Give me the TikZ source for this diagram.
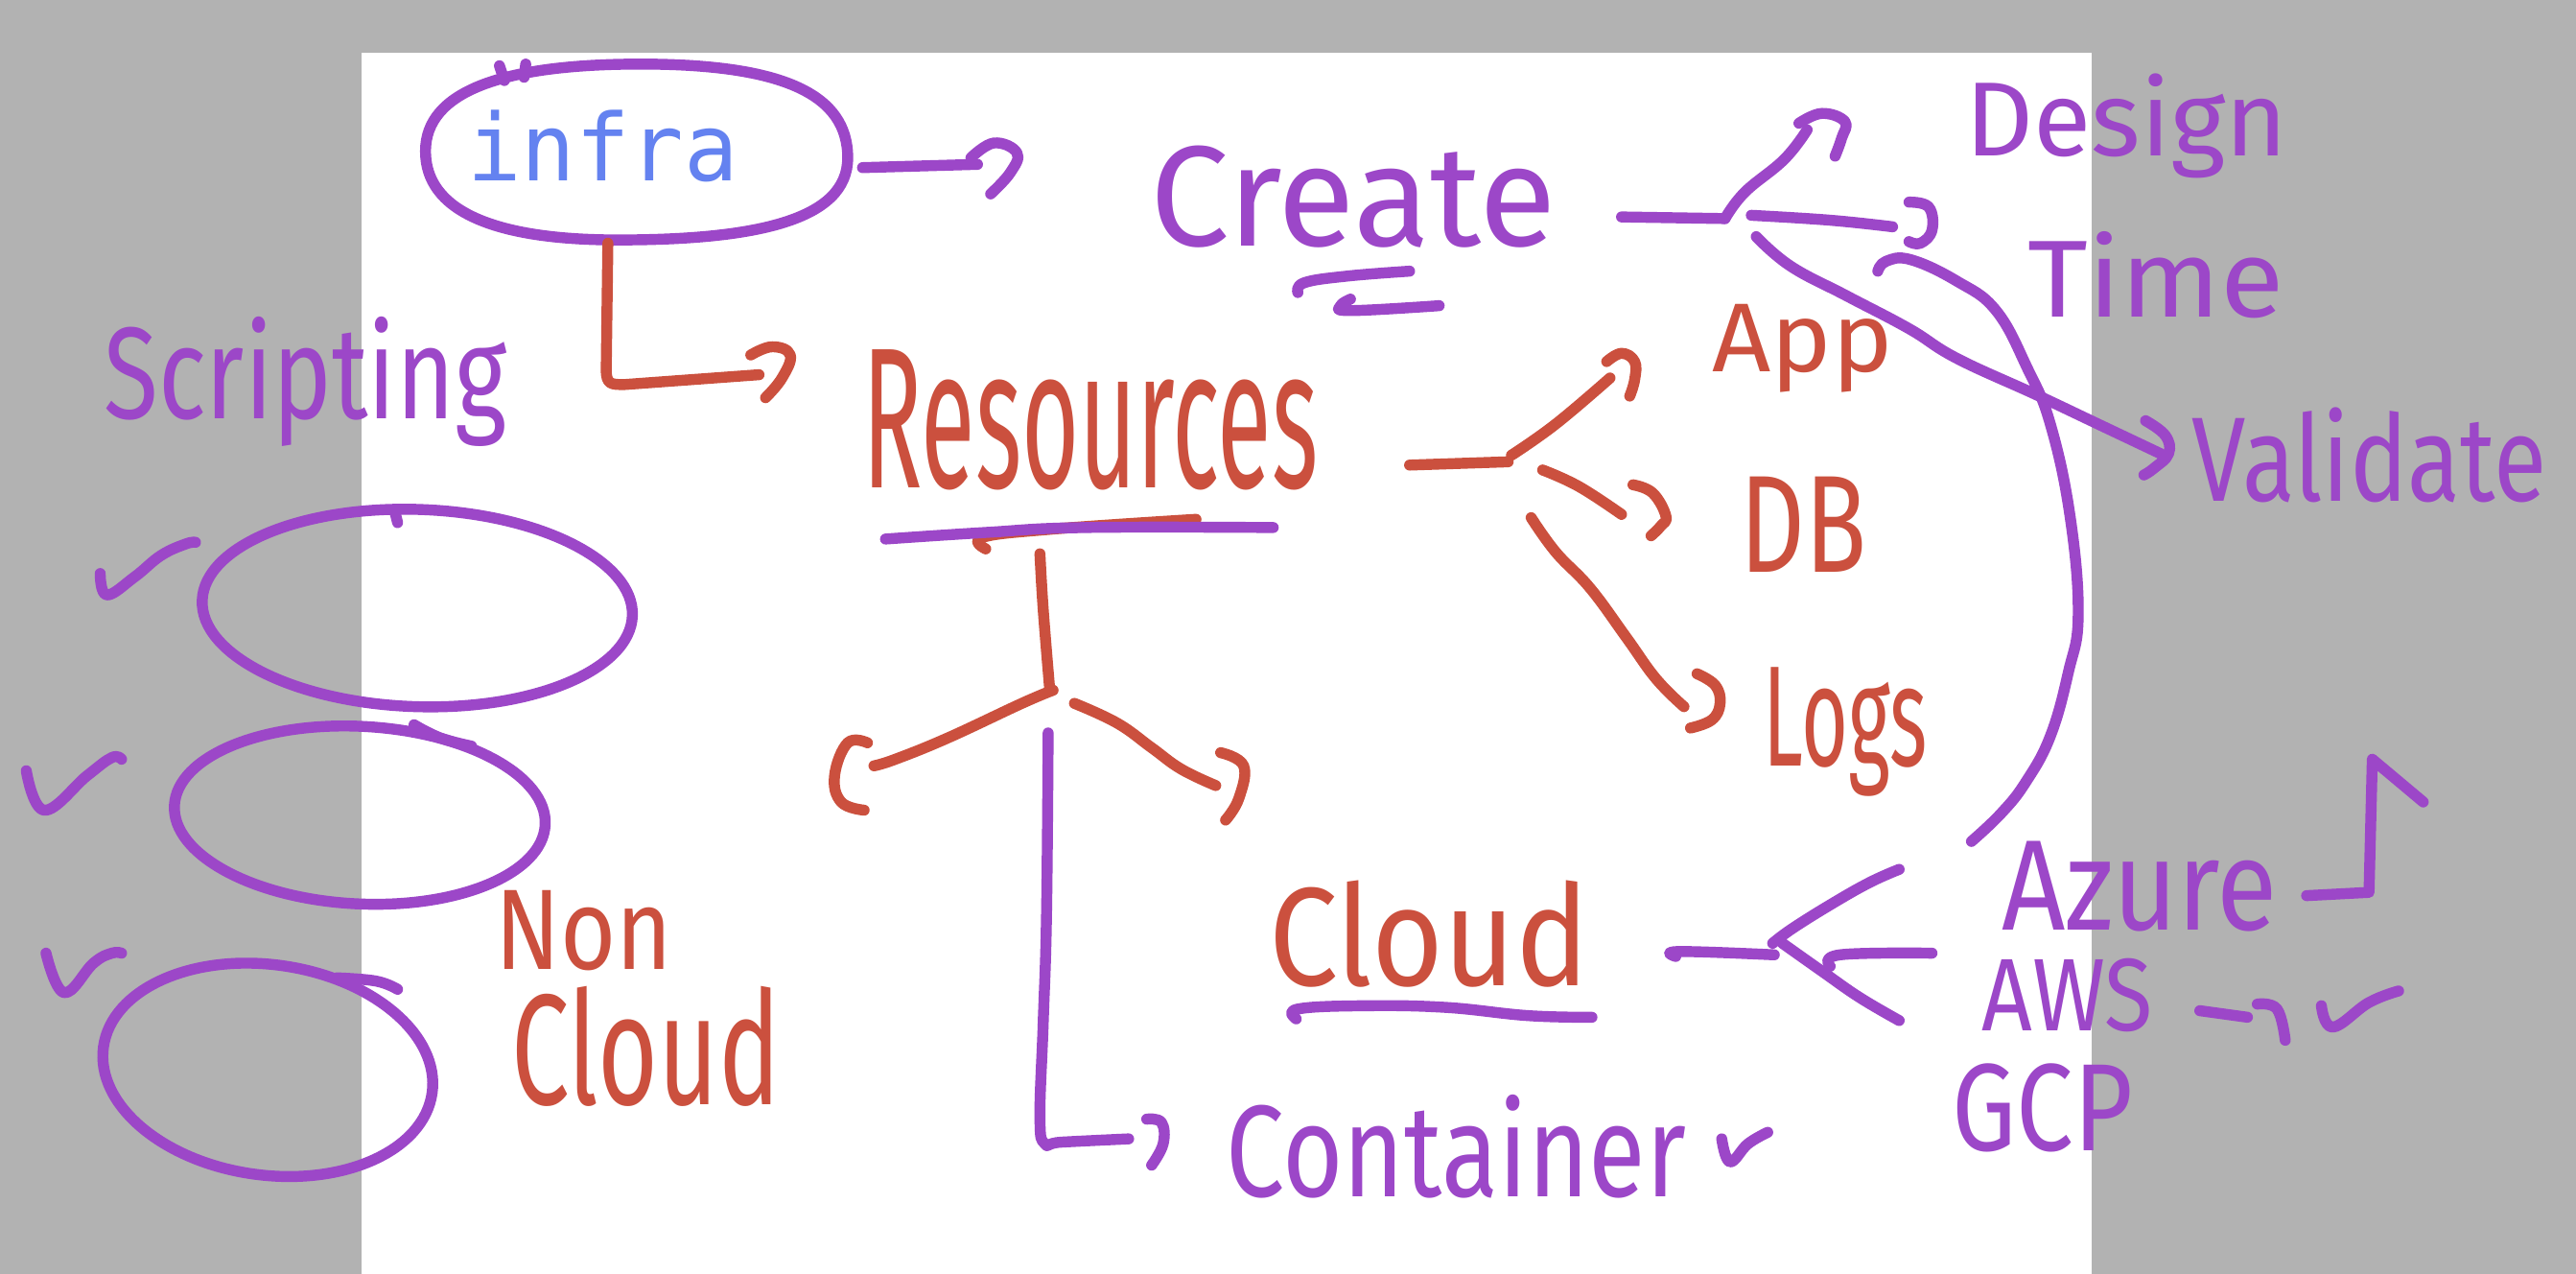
\documentclass[tikz,border=0pt]{standalone}
\usepackage{fontspec}
\usepackage{graphicx}
\setmainfont{Fira Sans}
\newfontfamily\monof{DejaVu Sans Mono}
\definecolor{pu}{RGB}{156,71,200}
\definecolor{rd}{RGB}{203,80,62}
\definecolor{bl}{RGB}{100,130,240}
\definecolor{bg}{RGB}{178,178,178}
\tikzset{
  pen/.style={line width=3.8pt, line cap=round, line join=round},
  pp/.style={pen, draw=pu},
  rr/.style={pen, draw=rd},
  hw/.style={inner sep=0pt, anchor=base west},
  sm/.style={smooth, tension=0.7},
}
\newcommand{\hwt}[3]{\resizebox{#1cm}{#2cm}{#3}}
\begin{document}
\begin{tikzpicture}[x=0.02cm, y=-0.02cm]
\useasboundingbox (0,0) rectangle (1568,775);
\fill[bg] (0,0) rectangle (1568,775);
\fill[white] (220,32) rectangle (1273,775);

% ---------- texts ----------
\node[hw, text=bl] (infra) at (284,110) {\hwt{3.3}{0.86}{\monof infra}};
\node[hw, text=pu] (scripting) at (63,255) {\hwt{4.9}{1.24}{Scripting}};
\node[hw, text=pu] (create) at (700,150) {\hwt{4.94}{1.22}{Create}};
\node[hw, text=pu] (design) at (1196,95) {\hwt{3.92}{1.0}{Design}};
\node[hw, text=pu] (time) at (1234,193) {\hwt{3.12}{1.04}{Time}};
\node[hw, text=pu] (validate) at (1334,305) {\hwt{4.32}{1.14}{Validate}};
\node[hw, text=rd] (resources) at (525,297) {\hwt{5.54}{1.68}{Resources}};
\node[hw, text=rd] (app) at (1042,226) {\hwt{2.2}{0.82}{App}};
\node[hw, text=rd] (db) at (1059,348) {\hwt{1.54}{1.16}{DB}};
\node[hw, text=rd] (logs) at (1073,466) {\hwt{2.0}{1.2}{Logs}};
\node[hw, text=rd] (cloud) at (772,600) {\hwt{3.9}{1.28}{Cloud}};
\node[hw, text=rd] (non) at (301,590) {\hwt{2.16}{0.96}{Non}};
\node[hw, text=rd] (noncloud) at (311,672) {\hwt{3.28}{1.44}{Cloud}};
\node[hw, text=pu] (azure) at (1218,566) {\hwt{3.36}{1.08}{Azure}};
\node[hw, text=pu] (aws) at (1206,627) {\hwt{2.08}{0.88}{AWS}};
\node[hw, text=pu] (gcp) at (1188,700) {\hwt{2.2}{1.06}{GCP}};
\node[hw, text=pu] (container) at (746,728) {\hwt{5.6}{1.24}{Container}};

% ---------- named points ----------
\coordinate (infraT) at (390,39);
\coordinate (infraR) at (525,102);
\coordinate (infraB) at (370,148);
\coordinate (toCreate) at (595,100);
\coordinate (toRes) at (462,228);
\coordinate (createR) at (987,132);
\coordinate (cj) at (1050,133);
\coordinate (resR) at (858,283);
\coordinate (rj) at (918,281);
\coordinate (treeTop) at (633,337);
\coordinate (treeJ) at (639,420);
\coordinate (contTop) at (638,446);
\coordinate (toCont) at (687,693);
\coordinate (cloudR) at (1020,579);
\coordinate (clj) at (1080,581);
\coordinate (e1) at (254,370);
\coordinate (e2) at (219,496);
\coordinate (e3) at (163,651);

% ---------- infra ellipse ----------
\draw[pp] (infraT) .. controls (478,39) and (516,58) .. (516,96)
  .. controls (516,134) and (460,146) .. (376,146)
  .. controls (300,146) and (259,128) .. (259,92)
  .. controls (259,56) and (305,39) .. (infraT);
\draw[pp] (304,40) -- (307,49);
\draw[pp] (320,39) -- (319,47);

% infra -> Create
\draw[pp] (infraR) -- (toCreate);
\draw[pp] plot[sm] coordinates {(591,96)(605,87)(619,93)(615,105)(603,118)};

% infra -> Resources
\draw[rr] (infraB) -- (369,225) .. controls (369,234) and (372,234) .. (380,234) -- (toRes);
\draw[rr] plot[sm] coordinates {(457,216)(470,211)(481,216)(476,230)(466,242)};

% Create underlines
\draw[pp] plot[sm] coordinates {(790,178)(794,172)(820,168)(858,165)};
\draw[pp] plot[sm] coordinates {(822,182)(816,186)(822,189)(876,186)};

% Create fork
\draw[pp] (createR) -- (cj);
\draw[pp] plot[sm] coordinates {(cj)(1062,117)(1086,97)(1100,79)};
\draw[pp] plot[sm] coordinates {(1095,75)(1109,69)(1123,74)(1121,84)(1117,95)};
\draw[pp] plot[sm] coordinates {(1066,131)(1114,134)(1152,138)};
\draw[pp] plot[sm] coordinates {(1162,123)(1174,126)(1176,140)(1169,148)(1162,147)};
\draw[pp] plot[sm] coordinates {(1069,144)(1090,162)(1124,180)(1162,200)(1191,218)(1239,240)(1277,258)(1315,276)};
\draw[pp] plot[sm] coordinates {(1306,256)(1318,265)(1320,276)(1311,285)(1305,289)};

% big curve Design/Time -> Azure
\draw[pp] plot[sm] coordinates {(1143,165)(1148,159)(1163,158)(1191,171)(1215,189)(1234,224)(1248,258)(1260,314)(1265,374)(1259,409)(1248,448)(1233,476)(1218,495)(1200,512)};

% Resources fork
\draw[rr] (resR) -- (rj);
\draw[rr] plot[sm] coordinates {(920,277)(947,258)(980,230)};
\draw[rr] plot[sm] coordinates {(978,220)(987,215)(995,220)(995,231)(992,241)};
\draw[rr] plot[sm] coordinates {(939,286)(961,296)(987,313)};
\draw[rr] plot[sm] coordinates {(994,295)(1006,300)(1014,314)(1011,320)(1005,326)};
\draw[rr] plot[sm] coordinates {(932,315)(947,336)(968,358)(990,388)(1008,413)(1025,430)};
\draw[rr] plot[sm] coordinates {(1033,410)(1044,417)(1047,428)(1042,438)(1029,443)};

% Resources underlines
\draw[rr] plot[sm] coordinates {(600,334)(598,327)(640,322)(728,316)};
\draw[pp] plot[sm] coordinates {(539,328)(600,324)(660,321)(775,321)};

% tree under Resources
\draw[rr] plot[sm] coordinates {(treeTop)(635,371)(treeJ)};
\draw[rr] plot[sm] coordinates {(641,420)(622,428)(577,449)(545,462)(532,466)};
\draw[rr] plot[sm] coordinates {(528,452)(516,452)(508,472)(512,488)(526,493)};
\draw[rr] plot[sm] coordinates {(654,428)(680,440)(701,455)(719,468)(740,478)};
\draw[rr] plot[sm] coordinates {(743,458)(757,466)(754,486)(746,499)};

% down to Container
\draw[pp] plot[sm] coordinates {(contTop)(637,557)(635,622)(633,680)(636,696)(646,695)(toCont)};
\draw[pp] plot[sm] coordinates {(698,681)(707,683)(708,696)(701,709)};
\draw[pp] plot[sm] coordinates {(1048,693)(1053,707)(1064,696)(1076,689)};

% Cloud underline and fork
\draw[pp] plot[sm] coordinates {(789,620)(790,614)(830,612)(880,613)(930,618)(969,619)};
\draw[pp] plot[sm] coordinates {(1020,582)(1022,579)(clj)};
\draw[pp] plot[sm] coordinates {(1079,574)(1091,565)(1115,550)(1138,537)(1156,529)};
\draw[pp] plot[sm] coordinates {(1085,574)(1109,591)(1132,607)(1156,621)};
\draw[pp] plot[sm] coordinates {(1114,588)(1120,581)(1176,580)};

% Azure arrow
\draw[pp] (1404,545) -- (1442,543) -- (1444,462) -- (1475,488);
% AWS arrow and check
\draw[pp] (1339,615) -- (1368,619);
\draw[pp] plot[sm] coordinates {(1374,611)(1386,614)(1391,633)};
\draw[pp] plot[sm] coordinates {(1413,612)(1420,625)(1442,610)(1460,603)};

% left ellipses
\draw[pp] (e1) ellipse [x radius=131, y radius=60, rotate=-2];
\draw[pp] (242,318) -- (240,310);
\draw[pp] (e2) ellipse [x radius=113, y radius=54, rotate=-3];
\draw[pp] plot[sm] coordinates {(252,441)(268,449)(287,454)};
\draw[pp] (e3) ellipse [x radius=101, y radius=64, rotate=-8];
\draw[pp] plot[sm] coordinates {(205,595)(229,597)(242,602)};

% check marks
\draw[pp] plot[sm] coordinates {(61,349)(65,362)(82,351)(98,338)(113,331)(119,330)};
\draw[pp] plot[sm] coordinates {(16,469)(27,493)(53,472)(68,461)(74,462)};
\draw[pp] plot[sm] coordinates {(28,580)(39,604)(57,586)(68,580)(74,580)};
\end{tikzpicture}
\end{document}
